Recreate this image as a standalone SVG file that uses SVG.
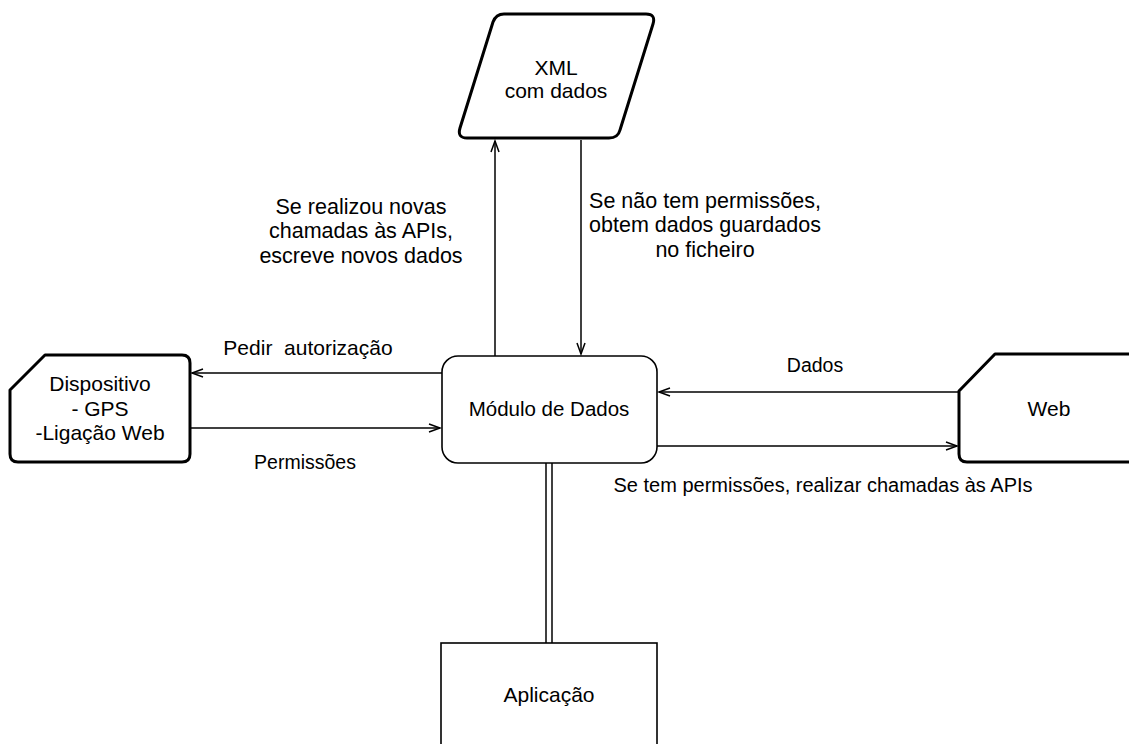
<svg xmlns="http://www.w3.org/2000/svg" width="1129" height="744" viewBox="0 0 1129 744">
<style>
text{font-family:"Liberation Sans",Arial,sans-serif;font-size:21px;fill:#000;text-anchor:middle}
.lbl{font-size:21.5px}
.sm{font-size:19.5px}
.thick{fill:#fff;stroke:#000;stroke-width:3;stroke-linejoin:round}
.thin{fill:#fff;stroke:#000;stroke-width:1.6}
.edge{fill:none;stroke:#000;stroke-width:1.5}
.head{fill:none;stroke:#000;stroke-width:1.5}
</style>
<rect width="1129" height="744" fill="#fff"/>
<g id="connectors">
  <line class="edge" x1="495" y1="356" x2="495" y2="141"/>
  <polyline class="head" points="491,152 495,141 499,152"/>
  <line class="edge" x1="581" y1="140" x2="581" y2="354"/>
  <polyline class="head" points="577,343 581,354 585,343"/>
  <line class="edge" x1="442" y1="373" x2="192" y2="373"/>
  <polyline class="head" points="203,369 192,373 203,377"/>
  <line class="edge" x1="190" y1="428" x2="440" y2="428"/>
  <polyline class="head" points="429,424 440,428 429,432"/>
  <line class="edge" x1="959" y1="392" x2="659" y2="392"/>
  <polyline class="head" points="670,388 659,392 670,396"/>
  <line class="edge" x1="657" y1="446" x2="957" y2="446"/>
  <polyline class="head" points="946,442 957,446 946,450"/>
  <line class="edge" x1="546" y1="463" x2="546" y2="643"/>
  <line class="edge" x1="552" y1="463" x2="552" y2="643"/>
</g>
<g id="xml">
  <path class="thick" d="M504,14 L646,14 Q656,14 653,24 L620,130 Q618,138 609,138 L467,138 Q457,138 460,128 L493,22 Q496,14 504,14 Z"/>
  <text x="556" y="75">XML</text>
  <text x="556" y="98">com dados</text>
</g>
<g id="dispositivo">
  <path class="thick" d="M45,355 L182,355 Q190,355 190,363 L190,454 Q190,462 182,462 L18,462 Q10,462 10,454 L10,390 Z"/>
  <text x="100" y="391">Dispositivo</text>
  <text x="100" y="416">- GPS</text>
  <text x="100" y="440">-Ligação Web</text>
</g>
<g id="modulo">
  <rect class="thin" x="442" y="356" width="215" height="107" rx="16"/>
  <text x="549" y="416" style="font-size:20.5px">Módulo de Dados</text>
</g>
<g id="web">
  <path class="thick" d="M995,354 L1140,354 L1140,462 L967,462 Q959,462 959,454 L959,391 Z"/>
  <text x="1049" y="416">Web</text>
</g>
<g id="aplicacao">
  <rect class="thin" x="441" y="643" width="216" height="120"/>
  <text x="549" y="702">Aplicação</text>
</g>
<g id="labels">
  <text class="lbl" x="361" y="214">Se realizou novas</text>
  <text class="lbl" x="361" y="238">chamadas às APIs,</text>
  <text class="lbl" x="361" y="263">escreve novos dados</text>
  <text class="lbl" x="705" y="208">Se não tem permissões,</text>
  <text class="lbl" x="705" y="232">obtem dados guardados</text>
  <text class="lbl" x="705" y="257">no ficheiro</text>
  <text x="308" y="355" xml:space="preserve">Pedir  autorização</text>
  <text class="sm" x="305" y="469">Permissões</text>
  <text class="sm" x="815" y="372">Dados</text>
  <text x="823" y="492" style="font-size:20px">Se tem permissões, realizar chamadas às APIs</text>
</g>
</svg>
